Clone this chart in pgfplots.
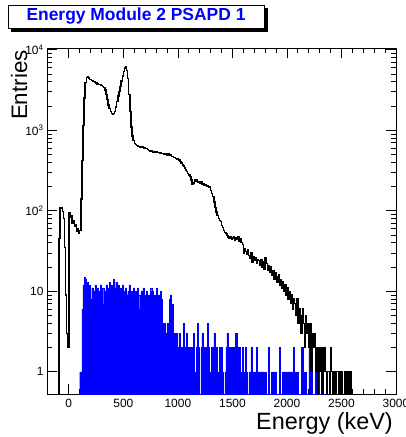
\documentclass[border=0pt]{standalone}
\usepackage{fontspec}
\setmainfont{Liberation Sans}
\usepackage{pgfplots}
\pgfplotsset{compat=1.18}
\definecolor{rootblue}{RGB}{0,0,255}

\begin{document}
\begin{tikzpicture}
\begin{axis}[
  scale only axis, width=349bp, height=346bp,
  at={(0,0)}, anchor=south west,
  xmin=-200, xmax=3000,
  ymode=log, ymin=0.53, ymax=10500,
  log origin=infty,
  xtick={0,500,...,3000},
  minor x tick num=4,
  ytick={1,10,100,1000,10000},
  yticklabels={1,10,10\textsuperscript{2},10\textsuperscript{3},10\textsuperscript{4}},
  /pgf/number format/assume math mode=true,
  /pgf/number format/1000 sep={},
  tick align=inside,
  major tick length=10bp, minor tick length=5bp,
  tick label style={font=\fontsize{12}{12}\selectfont},
  xticklabel style={yshift=-2bp},
  axis line style={line width=1pt},
  every tick/.style={black, line width=0.7pt},
]
% blue: second selection (10 keV bins, 0.1 = empty bin)
\addplot[const plot mark left, fill=rootblue, draw=rootblue, line width=0.4pt] coordinates {
(100,1) (110,1) (120,6) (130,12) (140,15) (150,14) (160,11) (170,13) (180,9) (190,12)
(200,8) (210,11) (220,10) (230,7) (240,12) (250,9) (260,11) (270,10) (280,8) (290,12)
(300,9) (310,11) (320,7) (330,10) (340,12) (350,8) (360,11) (370,13) (380,10) (390,12)
(400,9) (410,14) (420,11) (430,13) (440,10) (450,12) (460,8) (470,11) (480,9) (490,12)
(500,10) (510,7) (520,11) (530,9) (540,10) (550,12) (560,8) (570,10) (580,6) (590,11)
(600,9) (610,10) (620,7) (630,11) (640,9) (650,6) (660,10) (670,8) (680,11) (690,9)
(700,7) (710,10) (720,8) (730,9) (740,6) (750,11) (760,10) (770,8) (780,9) (790,7)
(800,11) (810,8) (820,9) (830,6) (840,10) (850,8) (860,3) (870,4) (880,3) (890,2)
(900,4) (910,3) (920,8) (930,9) (940,4) (950,7) (960,3) (970,2) (980,3) (990,2)
(1000,2) (1010,3) (1020,2) (1030,1) (1040,2) (1050,4) (1060,2) (1070,2) (1080,3) (1090,2)
(1100,2) (1110,1) (1120,2) (1130,2) (1140,3) (1150,0.1) (1160,1) (1170,2) (1180,4) (1190,2)
(1200,0.1) (1210,2) (1220,3) (1230,2) (1240,2) (1250,1) (1260,2) (1270,4) (1280,2) (1290,0.1)
(1300,1) (1310,2) (1320,1) (1330,3) (1340,0.1) (1350,2) (1360,0.1) (1370,1) (1380,2) (1390,1)
(1400,2) (1410,1) (1420,0.1) (1430,1) (1440,2) (1450,3) (1460,0.1) (1470,2) (1480,1) (1490,2)
(1500,1) (1510,2) (1520,0.1) (1530,3) (1540,1) (1550,2) (1560,2) (1570,1) (1580,0.1) (1590,2)
(1600,1) (1610,0.1) (1620,2) (1630,1) (1640,0.1) (1650,1) (1660,1) (1670,2) (1680,0.1) (1690,1)
(1700,1) (1710,0.1) (1720,2) (1730,1) (1740,1) (1750,1) (1760,1) (1770,1) (1780,1) (1790,0.1)
(1800,1) (1810,0.1) (1820,0.1) (1830,2) (1840,0.1) (1850,0.1) (1860,1) (1870,1) (1880,1) (1890,1)
(1900,0.1) (1910,0.1) (1920,0.1) (1930,2) (1940,0.1) (1950,0.1) (1960,1) (1970,1) (1980,1) (1990,1)
(2000,0.1) (2010,1) (2020,1) (2030,1) (2040,1) (2050,1) (2060,2) (2070,1) (2080,1) (2090,1)
(2100,0.1) (2110,0.1) (2120,0.1) (2130,2) (2140,2) (2150,0.1) (2160,1) (2170,1) (2180,0.1) (2190,0.1)
(2200,2) (2210,1) (2220,1) (2230,0.1) (2240,0.1) (2250,0.1) (2260,1) (2270,0.1) (2280,0.1) (2290,1)
(2300,0.1) (2310,0.1) (2320,1) (2330,0.1) (2340,0.1)
} \closedcycle;
% black: all events
\addplot[const plot mark left, black, line width=1.4pt] coordinates {
(-100,0.1)
(-90,45) (-80,108) (-70,110) (-60,98) (-50,80) (-40,35) (-30,9) (-20,3) (-10,2)
(0,95) (10,82) (20,88) (30,70) (40,76) (50,64) (60,68) (70,55) (80,60) (90,52)
(100,57) (110,140) (120,420) (130,1150) (140,2500) (150,3900) (160,4500) (170,4600) (180,4450) (190,4300)
(200,4250) (210,4150) (220,4050) (230,4000) (240,3900) (250,3850) (260,3750) (270,3700) (280,3680) (290,3650)
(300,3600) (310,3500) (320,3400) (330,3150) (340,2800) (350,2400) (360,2050) (370,1850) (380,1700) (390,1620)
(400,1580) (410,1620) (420,1720) (430,1950) (440,2280) (450,2650) (460,3050) (470,3500) (480,4100) (490,4700)
(500,5400) (510,5950) (520,6100) (530,5500) (540,4400) (550,2800) (560,1700) (570,1100) (580,850) (590,740)
(600,690) (610,665) (620,650) (630,640) (640,630) (650,622) (660,615) (670,625) (680,610) (690,600)
(700,595) (710,590) (720,580) (730,560) (740,550) (750,545) (760,555) (770,535) (780,548) (790,530)
(800,540) (810,528) (820,532) (830,520) (840,525) (850,510) (860,518) (870,505) (880,500) (890,510)
(900,495) (910,505) (920,490) (930,500) (940,475) (950,470) (960,462) (970,455) (980,448) (990,440)
(1000,430) (1010,425) (1020,410) (1030,392) (1040,372) (1050,360) (1060,338) (1070,320) (1080,305) (1090,290)
(1100,278) (1110,265) (1120,240) (1130,215) (1140,222) (1150,240) (1160,232) (1170,240) (1180,225) (1190,230)
(1200,220) (1210,232) (1220,212) (1230,218) (1240,205) (1250,212) (1260,200) (1270,205) (1280,195) (1290,198)
(1300,180) (1310,165) (1320,150) (1330,128) (1340,110) (1350,96) (1360,88) (1370,80) (1380,76) (1390,74)
(1400,66) (1410,62) (1420,57) (1430,54) (1440,52) (1450,49) (1460,47) (1470,45) (1480,47) (1490,44)
(1500,46) (1510,47) (1520,43) (1530,46) (1540,44) (1550,47) (1560,42) (1570,45) (1580,40) (1590,38)
(1600,30) (1610,34) (1620,31) (1630,29) (1640,33) (1650,28) (1660,26) (1670,30) (1680,23) (1690,27)
(1700,24) (1710,26) (1720,22) (1730,25) (1740,24) (1750,21) (1760,25) (1770,20) (1780,23) (1790,19)
(1800,26) (1810,22) (1820,18) (1830,21) (1840,17) (1850,20) (1860,16) (1870,18) (1880,14) (1890,17)
(1900,15) (1910,13) (1920,16) (1930,12) (1940,14) (1950,11) (1960,13) (1970,10) (1980,12) (1990,9)
(2000,11) (2010,8) (2020,10) (2030,7) (2040,9) (2050,6) (2060,8) (2070,7) (2080,5) (2090,8)
(2100,4) (2110,6) (2120,5) (2130,3) (2140,6) (2150,4) (2160,2) (2170,5) (2180,3) (2190,4)
(2200,2) (2210,4) (2220,1) (2230,3) (2240,2) (2250,3) (2260,1) (2270,2) (2280,0.1) (2290,2)
(2300,1) (2310,2) (2320,0.1) (2330,1) (2340,2) (2350,1) (2360,0.1) (2370,1) (2380,1) (2390,0.1)
(2400,2) (2410,1) (2420,0.1) (2430,1) (2440,0.1) (2450,1) (2460,1) (2470,0.1) (2480,1) (2490,0.1)
(2500,1) (2510,0.1) (2520,0.1) (2530,1) (2540,0.1) (2550,1) (2560,0.1) (2570,0.1) (2580,1) (2590,0.1)
(2600,0.1)
};
\end{axis}
% axis titles
\node[rotate=90, anchor=base east, font=\fontsize{22.5}{22.5}\selectfont, inner sep=0pt]
  at (-20bp,344bp) {Entries};
\node[anchor=base east, font=\fontsize{23.5}{23.5}\selectfont, inner sep=0pt]
  at (346bp,-35bp) {Energy (keV)};
% title box
\fill[black] (-36bp,362bp) rectangle (221bp,386bp);
\draw[fill=white, line width=0.8pt] (-39bp,366bp) rectangle (217bp,389bp);
\node[font=\fontsize{17.5}{17.5}\selectfont\bfseries, text=rootblue, inner sep=0pt]
  at (89bp,377.5bp) {Energy Module 2 PSAPD 1};
\pgfresetboundingbox
\path (-47bp,-43bp) rectangle (359bp,394bp);
\end{tikzpicture}
\end{document}
